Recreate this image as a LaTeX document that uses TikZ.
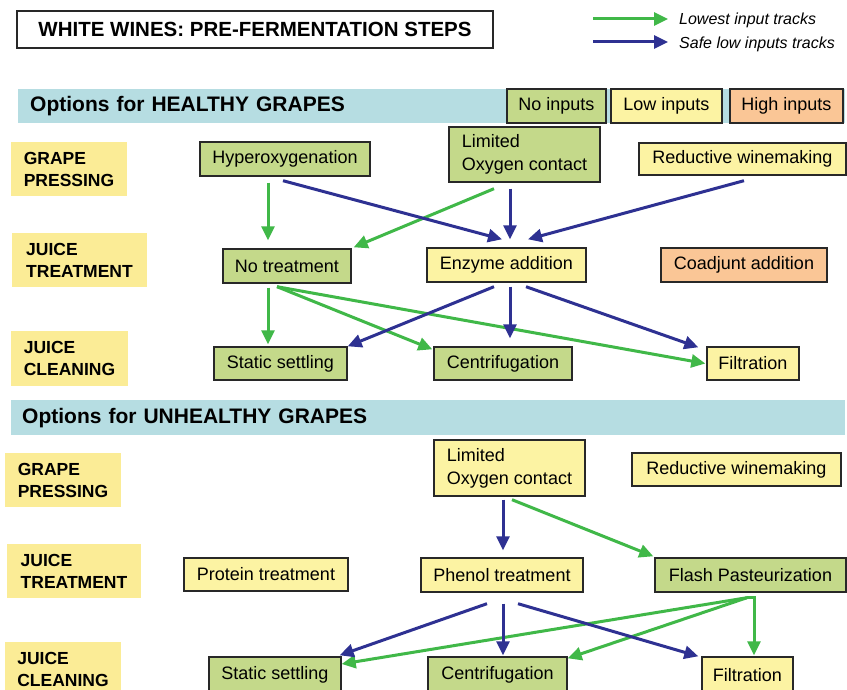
\documentclass[tikz,border=0pt]{standalone}
\usepackage{fontspec}
\setmainfont{Liberation Sans}
\usetikzlibrary{arrows.meta,calc}
\definecolor{boxgreen}{RGB}{196,217,138}
\definecolor{boxyellow}{RGB}{252,243,163}
\definecolor{boxorange}{RGB}{250,198,150}
\definecolor{lblyellow}{RGB}{251,236,150}
\definecolor{bandblue}{RGB}{182,221,226}
\definecolor{arrgreen}{RGB}{64,184,72}
\definecolor{arrblue}{RGB}{46,49,146}
\definecolor{edge}{RGB}{40,40,40}
\begin{document}
\begin{tikzpicture}[x=1pt,y=-1pt,
  box/.style={draw=edge, line width=1.4pt, inner sep=0pt, font=\fontsize{18}{23}\selectfont, text=black},
  gbox/.style={box, fill=boxgreen},
  ybox/.style={box, fill=boxyellow},
  obox/.style={box, fill=boxorange},
  lbl/.style={fill=lblyellow, inner sep=0pt, align=left, font=\bfseries\fontsize{17.5}{22}\selectfont},
  band/.style={fill=bandblue, anchor=north west, inner ysep=0pt, inner xsep=12pt, align=left, font=\bfseries\fontsize{21}{24}\selectfont},
  garrow/.style={draw=arrgreen, line width=3pt, -{Triangle[length=14pt,width=13pt]}},
  barrow/.style={draw=arrblue, line width=3pt, -{Triangle[length=14pt,width=13pt]}},
  legtext/.style={anchor=west, inner sep=0pt, font=\itshape\fontsize{16}{18}\selectfont},
]
\fill[white] (0,0) rectangle (847,690);
\useasboundingbox (0,0) rectangle (847,690);

% title and legend
\node[draw=edge, line width=1.5pt, fill=white, minimum width=476, minimum height=37, inner sep=0pt,
  font=\bfseries\fontsize{20.5}{24}\selectfont] (title) at (255,29.5) {WHITE WINES: PRE-FERMENTATION STEPS};
\coordinate (lg1a) at (593,19); \coordinate (lg1b) at (668,19);
\coordinate (lg2a) at (593,42); \coordinate (lg2b) at (668,42);
\node[legtext] (lgt1) at (679,20) {Lowest input tracks};
\node[legtext] (lgt2) at (679,44) {Safe low inputs tracks};

% bands
\node[band, minimum width=827, minimum height=34, text width=803] (bandH) at (18,89) {Options for HEALTHY GRAPES};
\node[band, minimum width=834, minimum height=35, text width=812, inner xsep=11pt] (bandU) at (11,400) {Options for UNHEALTHY GRAPES};

% legend boxes
\node[gbox, minimum width=99, minimum height=34] (noin) at (556.5,106) {No inputs};
\node[ybox, minimum width=111, minimum height=34] (lowin) at (666.5,106) {Low inputs};
\node[obox, minimum width=113, minimum height=34] (highin) at (786.5,106) {High inputs};

% side labels
\node[lbl, minimum width=116, minimum height=54] (hgp) at (69,169) {GRAPE\\PRESSING};
\node[lbl, minimum width=135, minimum height=54] (hjt) at (79.5,260) {JUICE\\TREATMENT};
\node[lbl, minimum width=117, minimum height=55] (hjc) at (69.5,358.5) {JUICE\\CLEANING};
\node[lbl, minimum width=116, minimum height=54] (ugp) at (63,480) {GRAPE\\PRESSING};
\node[lbl, minimum width=134, minimum height=54] (ujt) at (74,571) {JUICE\\TREATMENT};
\node[lbl, minimum width=116, minimum height=54] (ujc) at (63,669) {JUICE\\CLEANING};

% healthy nodes
\node[gbox, minimum width=170, minimum height=34] (hyper) at (285,159) {Hyperoxygenation};
\node[gbox, minimum width=151, minimum height=55, align=left] (limH) at (524.5,154.5) {Limited\\Oxygen contact};
\node[ybox, minimum width=207, minimum height=32] (redH) at (742.5,159) {Reductive winemaking};
\node[gbox, minimum width=128, minimum height=34] (notreat) at (287,266) {No treatment};
\node[ybox, minimum width=159, minimum height=34] (enzyme) at (506.5,265) {Enzyme addition};
\node[obox, minimum width=166, minimum height=34] (coadj) at (744,265) {Coadjunt addition};
\node[gbox, minimum width=133, minimum height=33] (staticH) at (280.5,363.5) {Static settling};
\node[gbox, minimum width=138, minimum height=33] (centH) at (503,363.5) {Centrifugation};
\node[ybox, minimum width=92, minimum height=33] (filtH) at (753,363.5) {Filtration};

% unhealthy nodes
\node[ybox, minimum width=151, minimum height=56, align=left] (limU) at (509.5,468) {Limited\\Oxygen contact};
\node[ybox, minimum width=209, minimum height=33] (redU) at (736.5,469.5) {Reductive winemaking};
\node[ybox, minimum width=164, minimum height=33] (protein) at (266,574.5) {Protein treatment};
\node[ybox, minimum width=162, minimum height=34] (phenol) at (502,575) {Phenol treatment};
\node[gbox, minimum width=191, minimum height=34] (flash) at (750.5,575) {Flash Pasteurization};
\node[gbox, minimum width=132, minimum height=36] (staticU) at (275,675) {Static settling};
\node[gbox, minimum width=139, minimum height=36] (centU) at (497.5,675) {Centrifugation};
\node[ybox, minimum width=91, minimum height=36] (filtU) at (747.5,675) {Filtration};

% legend arrows
\draw[garrow] (lg1a) -- (lg1b);
\draw[barrow] (lg2a) -- (lg2b);

% healthy green arrows
\draw[garrow] ($(hyper.south)+(-17,6)$) -- ($(notreat.north)+(-19,-8)$);
\draw[garrow] ($(limH.south)+(-30.5,6)$) -- ($(notreat.north east)+(2,-1)$);
\draw[garrow] ($(notreat.south)+(-19,4)$) -- ($(staticH.north)+(-12.5,-2)$);
\draw[garrow] ($(notreat.south)+(-10,3)$) -- ($(centH.north west)+(-1,3)$);
\draw[garrow] ($(notreat.south)+(-10,3)$) -- ($(filtH.west)+(-1,0)$);
% healthy blue arrows
\draw[barrow] ($(hyper.south)+(-2,4)$) -- ($(enzyme.north)+(-4.5,-8)$);
\draw[barrow] ($(limH.south)+(-14.5,6)$) -- ($(enzyme.north)+(3.5,-8)$);
\draw[barrow] ($(redH.south)+(1.5,5)$) -- ($(enzyme.north)+(21.5,-8)$);
\draw[barrow] ($(enzyme.south)+(-12.5,4)$) -- ($(staticH.north east)+(0,0)$);
\draw[barrow] ($(enzyme.south)+(3.5,4)$) -- ($(centH.north)+(7,-8)$);
\draw[barrow] ($(enzyme.south)+(19.5,4)$) -- ($(filtH.north west)+(-8,1)$);

% unhealthy green arrows
\draw[garrow] ($(limU.south)+(2.5,3)$) -- ($(flash.north west)+(-1,-1)$);
\draw[garrow] ($(flash.south)+(-3.5,5)$) -- ($(staticU.east)+(0,-11)$);
\draw[garrow] ($(flash.south)+(-3.5,5)$) -- ($(centU.north east)+(0,2)$);
\draw[garrow] ($(flash.south)+(-3.5,5)$) -| ($(filtU.north)+(6.5,-1)$);
% unhealthy blue arrows
\draw[barrow] ($(limU.south)+(-6.5,3)$) -- ($(phenol.north)+(1,-7)$);
\draw[barrow] ($(phenol.south)+(-15,11)$) -- ($(staticU.north east)+(-2,-1)$);
\draw[barrow] ($(phenol.south)+(1,11)$) -- ($(centU.north)+(5.5,-1)$);
\draw[barrow] ($(phenol.south)+(16,11)$) -- ($(filtU.north west)+(-3,0)$);
\end{tikzpicture}
\end{document}
